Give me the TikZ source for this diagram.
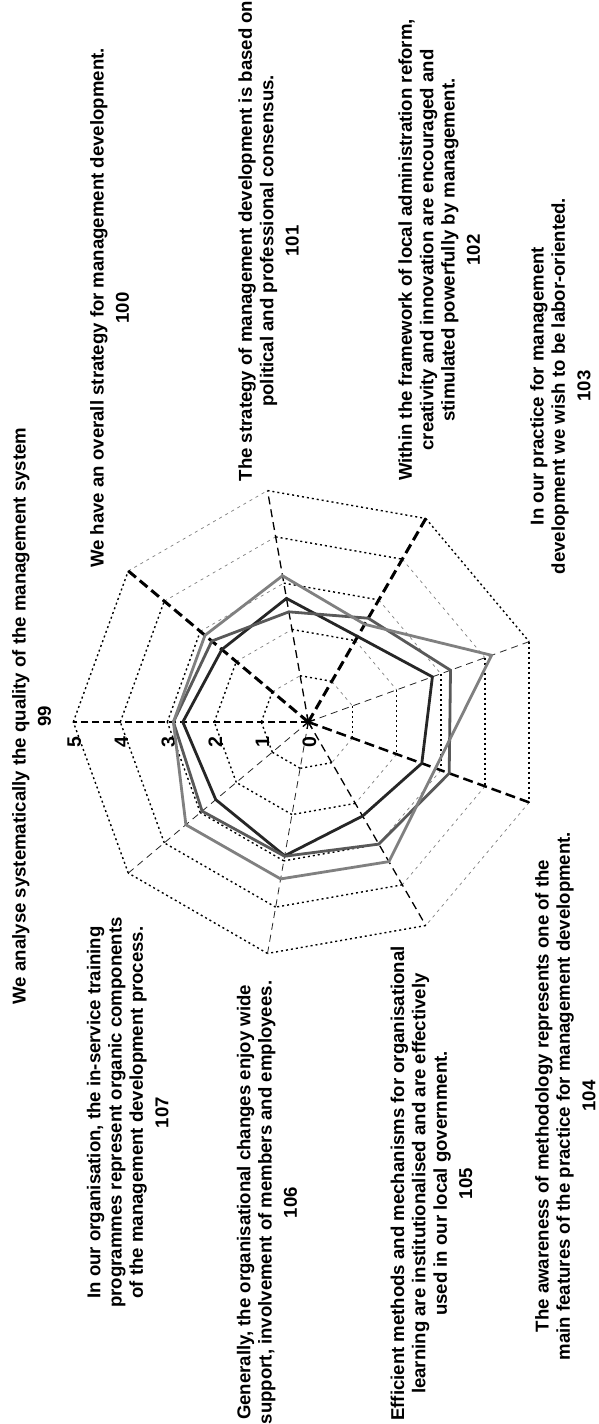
\documentclass[tikz,border=0pt]{standalone}
\usepackage{fontspec}
\setmainfont{Liberation Sans}
\begin{document}
\begin{tikzpicture}[x=1pt,y=1pt,
  lbl/.style={rotate=90, anchor=north, align=center, inner sep=0pt,
              font=\fontsize{18.6}{21.3}\selectfont\bfseries},
  tick/.style={rotate=90, inner sep=0pt, font=\fontsize{19.5}{21}\selectfont\bfseries},
  gblk/.style={black, line width=1.4pt, dash pattern=on 2pt off 3pt},
  ggry/.style={black!50, line width=0.7pt, dash pattern=on 3pt off 4pt},
  axheavy/.style={black, line width=3pt, dash pattern=on 10pt off 5pt},
  axmid/.style={black, line width=2pt, dash pattern=on 7pt off 4pt},
  axlight/.style={black, line width=1.3pt, dash pattern=on 8pt off 5pt},
  axthin/.style={black!85, line width=0.8pt, dash pattern=on 7pt off 5pt},
  serA/.style={draw=black!85, line width=2.8pt, line join=miter},
  serB/.style={draw=black!65, line width=2.8pt, line join=miter},
  serC/.style={draw=black!50, line width=2.8pt, line join=miter}]
\useasboundingbox (0,-1424) rectangle (599,0);
\fill[white] (0,-1424) rectangle (599,0);

\coordinate (C) at (308.3,-722);

% grid points: axis index i, level r (47pt per unit)
\foreach \i/\a in {0/180,1/140,2/100,3/60,4/20,5/-20,6/-60,7/-100,8/-140}{
  \foreach \r in {1,...,5}{
    \path (C) ++(\a:\r*47) coordinate (g\r-\i);
  }
}

% rings
\foreach \r/\s in {1/ggry,2/ggry,3/ggry,4/ggry,5/gblk}{
  \draw[gblk] (g\r-0) -- (g\r-1);
  \draw[ggry] (g\r-1) -- (g\r-2);
  \draw[gblk] (g\r-2) -- (g\r-3);
  \draw[\s]   (g\r-3) -- (g\r-4);
  \draw[gblk] (g\r-4) -- (g\r-5);
  \draw[ggry] (g\r-5) -- (g\r-6);
  \draw[gblk] (g\r-6) -- (g\r-7);
  \draw[gblk] (g\r-7) -- (g\r-8);
  \draw[gblk] (g\r-8) -- (g\r-0);
}

% spokes
\draw[axmid]   (C) -- (g5-0);
\draw[axheavy] (C) -- (g5-1);
\draw[axlight] (C) -- (g5-2);
\draw[axheavy] (C) -- (g5-3);
\draw[axthin]  (C) -- (g5-4);
\draw[axheavy, line width=2.5pt] (C) -- (g5-5);
\draw[axlight] (C) -- (g5-6);
\draw[axthin]  (C) -- (g5-7);
\draw[axthin]  (C) -- (g5-8);
\foreach \a in {180,140,100,60,20,-20,-60,-100,-140}{
  \draw[line width=1.3pt] (C) -- ++(\a:7);
}

% scale values
\foreach \k in {0,...,5}{
  \node[tick] (t\k) at (309.3-47*\k,-742.5) {\k};
}

% data series
\foreach \i/\a/\v in {0/180/2.67,1/140/2.40,2/100/2.67,3/60/2.10,4/20/2.81,
                      5/-20/2.57,6/-60/2.31,7/-100/2.89,8/-140/2.57}{
  \path (C) ++(\a:\v*47) coordinate (a\i);
}
\foreach \i/\a/\v in {0/180/2.87,1/140/2.68,2/100/2.38,3/60/2.55,4/20/3.22,
                      5/-20/3.19,6/-60/3.00,7/-100/2.90,8/-140/2.95}{
  \path (C) ++(\a:\v*47) coordinate (b\i);
}
\foreach \i/\a/\v in {0/180/2.87,1/140/2.87,2/100/3.16,3/60/2.40,4/20/4.15,
                      5/-20/2.88,6/-60/3.43,7/-100/3.39,8/-140/3.40}{
  \path (C) ++(\a:\v*47) coordinate (c\i);
}
\draw[serA] (a0) -- (a1) -- (a2) -- (a3) -- (a4) -- (a5) -- (a6) -- (a7) -- (a8) -- cycle;
\draw[serB] (b0) -- (b1) -- (b2) -- (b3) -- (b4) -- (b5) -- (b6) -- (b7) -- (b8) -- cycle;
\draw[serC] (c0) -- (c1) -- (c2) -- (c3) -- (c4) -- (c5) -- (c6) -- (c7) -- (c8) -- cycle;

% category labels
\node[lbl] (l99) at (12,-716) {We analyse systematically the quality of the management system\\[4pt]99};
\node[lbl] (l100) at (90,-308) {We have an overall strategy for management development.\\[4pt]100};
\node[lbl] (l101) at (238.3,-241) {The strategy of management development is based on\\political and professional consensus.\\[4pt]101};
\node[lbl] (l102) at (398.3,-250) {Within the framework of local administration reform,\\creativity and innovation are encouraged and\\stimulated powerfully by management.\\[4pt]102};
\node[lbl] (l103) at (530,-386) {In our practice for management\\development we wish to be labor-oriented.\\[4pt]103};
\node[lbl] (l104) at (535,-1096) {The awareness of methodology represents one of the\\main features of the practice for management development.\\[4pt]104};
\node[lbl] (l105) at (390.5,-1183.5) {Efficient methods and mechanisms for organisational\\learning are institutionalised and are effectively\\used in our local government.\\[4pt]105};
\node[lbl] (l106) at (236.7,-1202.5) {Generally, the organisational changes enjoy wide\\support, involvement of members and employees.\\[4pt]106};
\node[lbl] (l107) at (86.7,-1112.5) {In our organisation, the in-service training\\programmes represent organic components\\of the management development process.\\[4pt]107};
\end{tikzpicture}
\end{document}
